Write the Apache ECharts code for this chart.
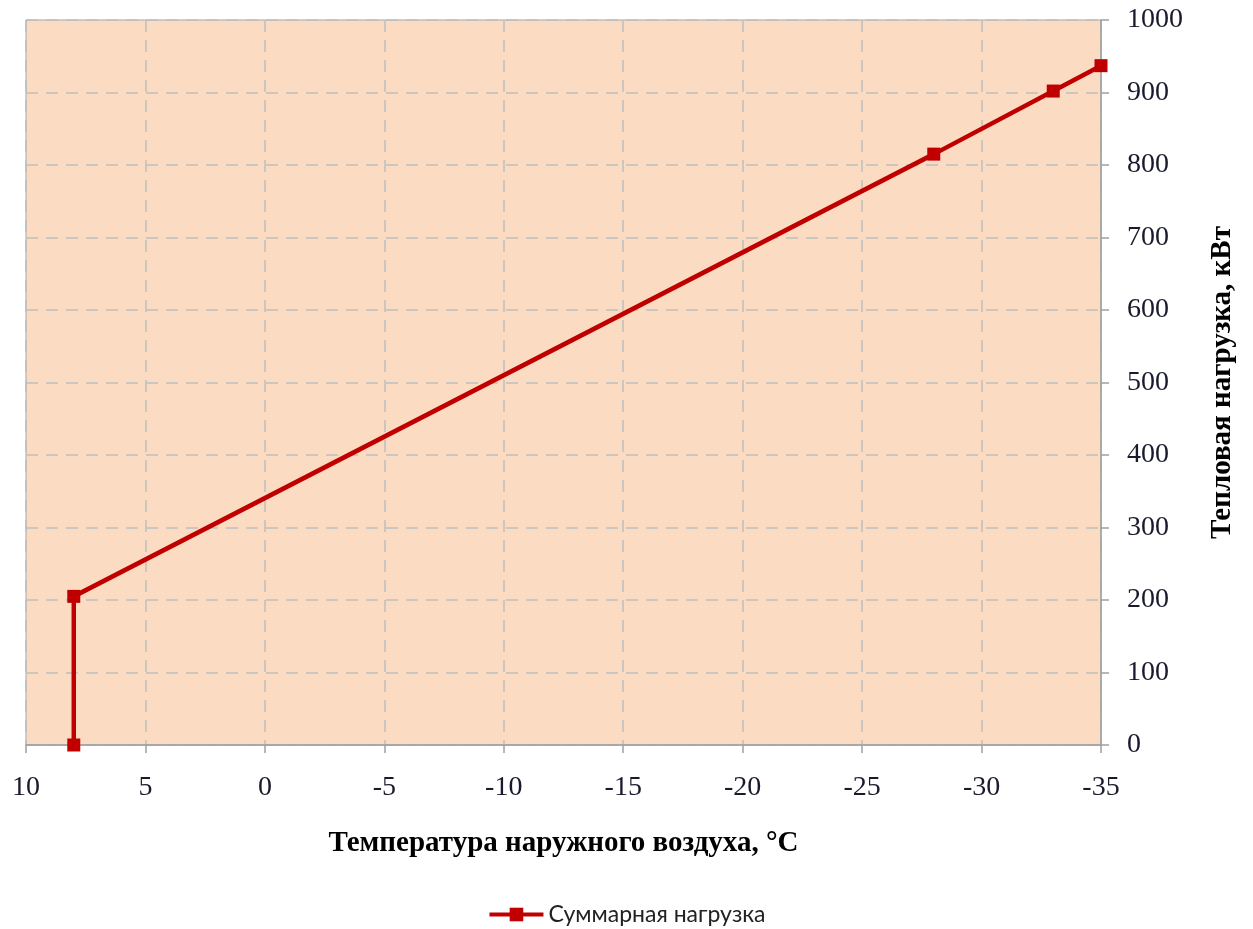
<!DOCTYPE html>
<html>
<head>
<meta charset="utf-8">
<script src="https://cdn.jsdelivr.net/npm/echarts@6/dist/echarts.min.js"></script>
<style>html,body{margin:0;padding:0;background:#fff}#c{width:1253px;height:929px}</style>
</head>
<body>
<div id="c"></div>
<script>
const seriesName = 'Суммарная нагрузка';
const temperatures = [8, 8, -28, -33, -35];
const loads = [0, 205, 815, 902, 937];
const xAxisTitle = 'Температура наружного воздуха, °C';
const yAxisTitle = 'Тепловая нагрузка, кВт';

const chart = echarts.init(document.getElementById('c'));
chart.setOption({
  animation: false,
  grid: {left: 26, right: 152, top: 20, bottom: 184, show: true,
    backgroundColor: '#FBDCC2', borderColor: '#A6A6A6', borderWidth: 1},
  legend: {
    top: 898, left: 'center', itemWidth: 54, itemHeight: 17, itemGap: 3,
    lineStyle: {width: 4},
    textStyle: {fontFamily: 'Lato', fontSize: 23, color: '#222'},
    data: [seriesName]
  },
  xAxis: {
    type: 'value', min: -35, max: 10, interval: 5, inverse: true,
    name: xAxisTitle, nameLocation: 'middle', nameGap: 84,
    nameTextStyle: {fontFamily: 'Liberation Serif', fontWeight: 'bold', fontSize: 29, color: '#000'},
    axisLine: {show: true, onZero: false, lineStyle: {color: '#A0A0A0', width: 1.5}},
    axisTick: {show: true, length: 8, lineStyle: {color: '#A0A0A0', width: 1.5}},
    axisLabel: {margin: 29, fontFamily: 'Liberation Serif', fontSize: 28, color: '#1a1a2e'},
    splitLine: {show: true, lineStyle: {color: '#BFBFBF', type: [12, 8], width: 1.5}}
  },
  yAxis: {
    type: 'value', min: 0, max: 1000, interval: 100, position: 'right',
    name: yAxisTitle, nameLocation: 'middle', nameGap: 107, nameRotate: 90,
    nameTextStyle: {fontFamily: 'Liberation Serif', fontWeight: 'bold', fontSize: 29, color: '#000'},
    axisLine: {show: true, onZero: false, lineStyle: {color: '#A0A0A0', width: 1.5}},
    axisTick: {show: true, length: 8, lineStyle: {color: '#A0A0A0', width: 1.5}},
    axisLabel: {margin: 26, align: 'left', fontFamily: 'Liberation Serif', fontSize: 28, color: '#1a1a2e',
      formatter: v => String(v)},
    splitLine: {show: true, lineStyle: {color: '#BFBFBF', type: [12, 8], width: 1.5}}
  },
  series: [{
    name: seriesName, type: 'line',
    data: temperatures.map((t, i) => [t, loads[i]]),
    symbol: 'rect', symbolSize: 13,
    lineStyle: {color: '#C00000', width: 4.5},
    itemStyle: {color: '#C00000'}
  }]
});
</script>
</body>
</html>
